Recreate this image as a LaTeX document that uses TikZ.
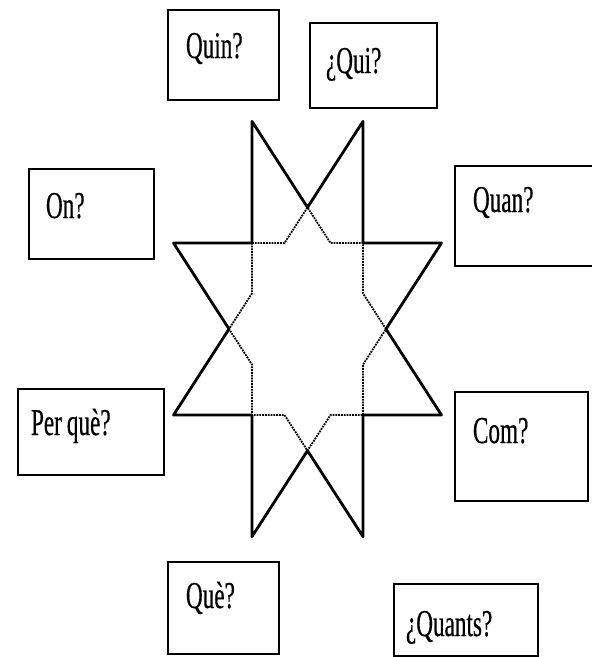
\documentclass[tikz,border=0pt]{standalone}
\usepackage{fontspec}
\newfontfamily\condserif[FakeStretch=0.61, FakeBold=0.4]{Liberation Serif}
\begin{document}
\begin{tikzpicture}[x=1pt,y=-1pt,
  qbox/.style={draw=black, line width=2pt, inner ysep=0pt, align=left,
    anchor=north west, font=\condserif\fontsize{38}{40}\selectfont},
  outline/.style={draw=black, line width=2.8pt, line join=round},
  inner/.style={draw=black, line width=1.8pt, densely dotted}]
\useasboundingbox (0,0) rectangle (592,657);
\clip (0,0) rectangle (592,657);
\fill[white] (0,0) rectangle (592,657);

% boxes: inner xsep = left offset, text width = W - 2*offset,
% text height = baseline - top, text depth = bottom - baseline
\node[qbox, inner xsep=18pt, text width=75pt, text height=48pt, text depth=42pt] (quin) at (167,9) {Quin?};
\node[qbox, inner xsep=16pt, text width=95pt, text height=50pt, text depth=35pt] (qui) at (309,22) {¿Qui?};
\node[qbox, inner xsep=17pt, text width=91pt, text height=49pt, text depth=41pt] (on) at (28,168) {On?};
\node[qbox, inner xsep=18pt, text width=114pt, text height=46pt, text depth=54pt] (quan) at (454,165) {Quan?};
\node[qbox, inner xsep=13pt, text width=120pt, text height=46pt, text depth=40pt] (perque) at (17,388) {Per\hspace{5pt}què?};
\node[qbox, inner xsep=18pt, text width=97pt, text height=51pt, text depth=58pt] (com) at (454,391) {Com?};
\node[qbox, inner xsep=18pt, text width=75pt, text height=46pt, text depth=46pt] (que) at (167,561) {Què?};
\node[qbox, inner xsep=12pt, text width=120pt, text height=52pt, text depth=20pt] (quants) at (393,583) {¿Quants?};

% eight-pointed star
\begin{scope}[shift={(307.5,329)}, x=55.5pt, y=-86pt]
  \coordinate (T1) at (-1,-2.4142);
  \coordinate (T2) at (1,-2.4142);
  \coordinate (R1) at (2.4142,-1);
  \coordinate (R2) at (2.4142,1);
  \coordinate (B2) at (1,2.4142);
  \coordinate (B1) at (-1,2.4142);
  \coordinate (L2) at (-2.4142,1);
  \coordinate (L1) at (-2.4142,-1);
  \coordinate (NW) at (-1,-1);
  \coordinate (NE) at (1,-1);
  \coordinate (SE) at (1,1);
  \coordinate (SW) at (-1,1);
  \coordinate (Xt) at (0,-1.4142);
  \coordinate (Xr) at (1.4142,0);
  \coordinate (Xb) at (0,1.4142);
  \coordinate (Xl) at (-1.4142,0);
  \coordinate (Nl) at (-0.4142,-1);
  \coordinate (Nr) at (0.4142,-1);
  \coordinate (Eu) at (1,-0.4142);
  \coordinate (Ed) at (1,0.4142);
  \coordinate (Sr) at (0.4142,1);
  \coordinate (Sl) at (-0.4142,1);
  \coordinate (Wd) at (-1,0.4142);
  \coordinate (Wu) at (-1,-0.4142);
  \draw[inner] (NW) -- (Nl) -- (Xt) -- (Nr) -- (NE) -- (Eu) -- (Xr) -- (Ed)
    -- (SE) -- (Sr) -- (Xb) -- (Sl) -- (SW) -- (Wd) -- (Xl) -- (Wu) -- cycle;
  \draw[outline] (T1) -- (Xt) -- (T2) -- (NE) -- (R1) -- (Xr) -- (R2) -- (SE)
    -- (B2) -- (Xb) -- (B1) -- (SW) -- (L2) -- (Xl) -- (L1) -- (NW) -- cycle;
\end{scope}
\end{tikzpicture}
\end{document}
